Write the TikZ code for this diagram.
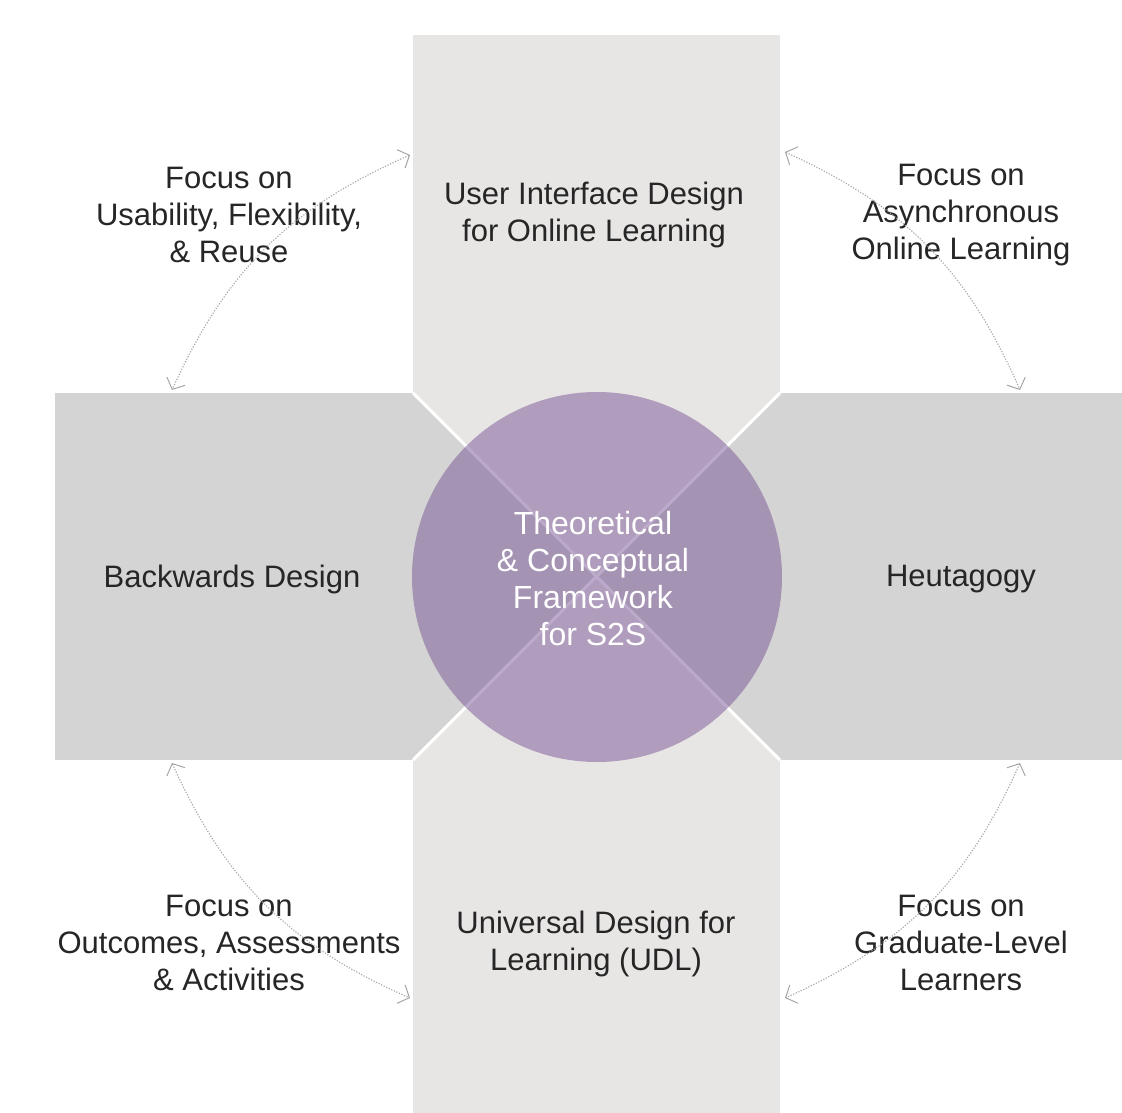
\documentclass[tikz,border=0pt]{standalone}
\usepackage{fontspec}
\setmainfont{Liberation Sans}
\usetikzlibrary{arrows.meta}
\definecolor{barlight}{HTML}{E8E6E5}
\definecolor{bardark}{HTML}{D4D4D4}
\definecolor{hubpurple}{RGB}{108,68,140}
\definecolor{txt}{HTML}{262626}
\definecolor{arrowgray}{HTML}{A6A6A6}
\tikzset{
  lbl/.style={align=center, text=txt, font=\fontsize{31}{37}\selectfont, inner sep=0pt},
  hublbl/.style={align=center, text=white, font=\fontsize{32}{37}\selectfont, inner sep=0pt},
  link/.style={draw=arrowgray, line width=1.1pt, dash pattern=on 1.2pt off 1.6pt,
    {Straight Barb[length=9pt,width=20pt,line width=1pt]}-{Straight Barb[length=9pt,width=20pt,line width=1pt]}},
}
\begin{document}
\begin{tikzpicture}[x=1pt,y=-1pt]
\useasboundingbox (0,0) rectangle (1122,1113);
\fill[white] (0,0) rectangle (1122,1113);
% bars
\fill[barlight] (413,35) rectangle (780,1113);
\fill[bardark] (55,393) rectangle (1122,760);
\fill[barlight] (413,393) -- (780,393) -- (596.5,576.5) -- cycle;
\fill[barlight] (413,760) -- (780,760) -- (596.5,576.5) -- cycle;
\draw[white, line width=3pt] (413,393) -- (780,760);
\draw[white, line width=3pt] (780,393) -- (413,760);
% hub
\fill[hubpurple, fill opacity=0.45] (597,577) circle[radius=185];
\node[hublbl] (hub) at (593,579) {Theoretical\\\& Conceptual\\Framework\\for S2S};
% labels
\node[lbl] (ui) at (594,215) {User Interface Design\\for Online Learning};
\node[lbl] (bd) at (232,579) {Backwards Design};
\node[lbl] (heu) at (961,579) {Heutagogy};
\node[lbl] (udl) at (596,944) {Universal Design for\\Learning (UDL)};
\node[lbl] (f1) at (229,215) {Focus on\\Usability, Flexibility,\\\& Reuse};
\node[lbl] (f2) at (961,215) {Focus on\\Asynchronous\\Online Learning};
\node[lbl] (f3) at (229,943) {Focus on\\Outcomes, Assessments\\\& Activities};
\node[lbl] (f4) at (961,943) {Focus on\\Graduate-Level\\Learners};
% connector ends
\coordinate (a1s) at (410,155); \coordinate (a1e) at (172,390);
\coordinate (a2s) at (785,152); \coordinate (a2e) at (1020,390);
\coordinate (a3s) at (172,763); \coordinate (a3e) at (410,998);
\coordinate (a4s) at (1020,763); \coordinate (a4e) at (785,998);
\draw[link] (a1s) to[bend right=21] (a1e);
\draw[link] (a2s) to[bend left=21] (a2e);
\draw[link] (a3s) to[bend right=21] (a3e);
\draw[link] (a4s) to[bend left=21] (a4e);
\end{tikzpicture}
\end{document}
